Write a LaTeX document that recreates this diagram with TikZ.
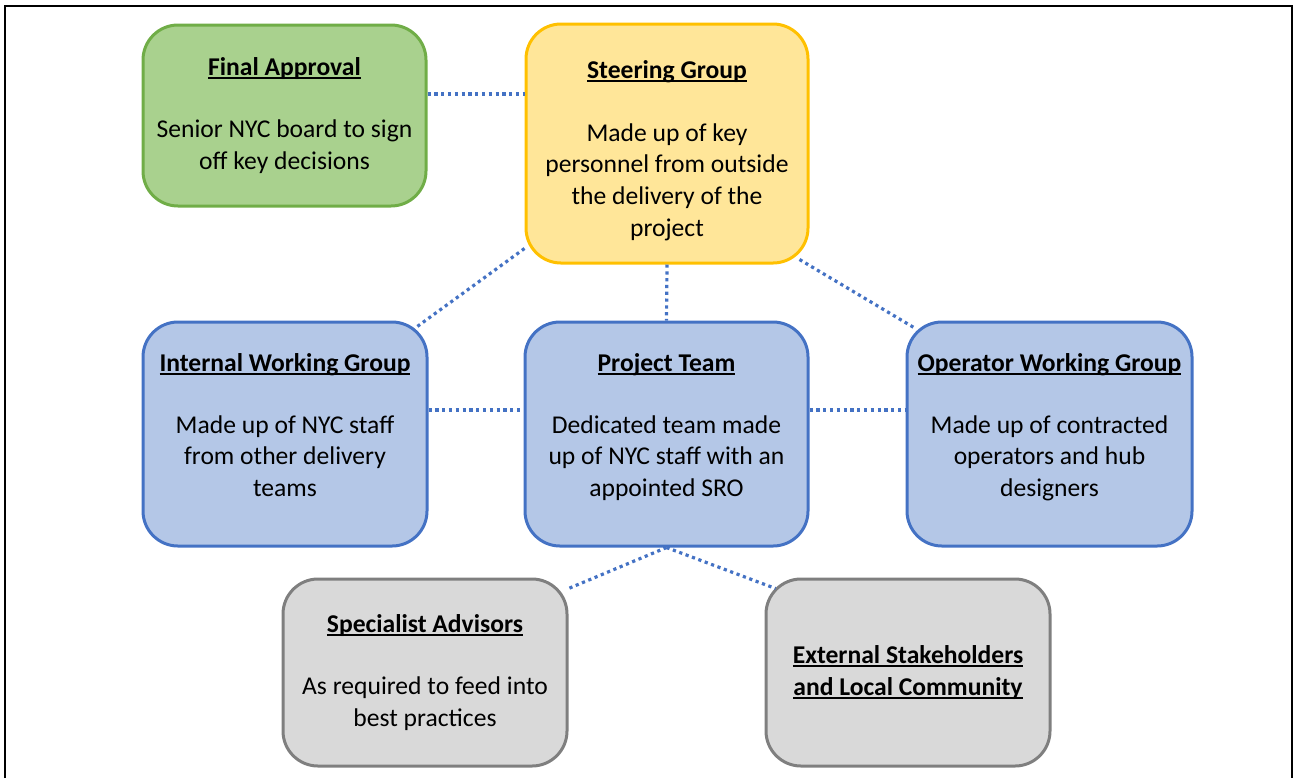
\documentclass[tikz,border=0pt]{standalone}
\usepackage{fontspec}
\setmainfont{Carlito}
\usepackage{tikz}

\definecolor{apprfill}{HTML}{A9D18E}
\definecolor{apprline}{HTML}{70AD47}
\definecolor{steerfill}{HTML}{FFE699}
\definecolor{steerline}{HTML}{FFC000}
\definecolor{teamfill}{HTML}{B4C7E7}
\definecolor{teamline}{HTML}{4472C4}
\definecolor{stakefill}{HTML}{D9D9D9}
\definecolor{stakeline}{HTML}{7F7F7F}

\tikzset{
  groupbox/.style = {rectangle, rounded corners=17.5pt, line width=1.5pt,
    align=center, inner sep=0pt, font=\fontsize{12.8}{15.8}\selectfont},
  apprbox/.style = {groupbox, draw=apprline, fill=apprfill},% final approval
  steerbox/.style = {groupbox, draw=steerline, fill=steerfill},% steering
  teambox/.style = {groupbox, draw=teamline, fill=teamfill},% working groups
  stakebox/.style = {groupbox, draw=stakeline, fill=stakefill},% advisors, community
  link/.style = {draw=teamline, line width=1.6pt, dash pattern=on 1.6pt off 1.8pt}
}

% bold heading with a rule just under the baseline
\newcommand{\heading}[1]{\setbox0=\hbox{\bfseries #1}%
  \rlap{\rule[-1.8pt]{\wd0}{0.9pt}}\box0}
% extra room below the last line, lifts the text a little
\newcommand{\lift}{\rule[-9pt]{0pt}{0pt}}

\begin{document}
\begin{tikzpicture}[x=0.5pt, y=-0.5pt]
  \useasboundingbox (0,0) rectangle (1293,778);
  \draw[line width=1pt] (5,778) -- (5,6) -- (1292,6) -- (1292,778);

  % top row
  \node[apprbox, minimum width=141.5pt, minimum height=90.5pt] (fa) at (284.5,115.5)
    {\heading{Final Approval}\\[15.5pt]
     Senior NYC board to sign\\ off key decisions};
  \node[steerbox, minimum width=141pt, minimum height=119.5pt] (sg) at (667,143.5)
    {\rule{0pt}{16pt}\heading{Steering Group}\\[15.5pt]
     Made up of key\\ personnel from outside\\ the delivery of the\\ project};

  % middle row
  \node[teambox, minimum width=142pt, minimum height=112pt] (iwg) at (285,434)
    {\heading{Internal Working Group}\\[15pt]
     Made up of NYC staff\\ from other delivery\\ teams\lift};
  \node[teambox, minimum width=141.5pt, minimum height=112pt] (pt) at (666.5,434)
    {\heading{Project Team}\\[15pt]
     Dedicated team made\\ up of NYC staff with an\\ appointed SRO\lift};
  \node[teambox, minimum width=142.5pt, minimum height=112pt] (owg) at (1049.5,434)
    {\heading{Operator Working Group}\\[15pt]
     Made up of contracted\\ operators and hub\\ designers\lift};

  % bottom row
  \node[stakebox, minimum width=142pt, minimum height=93.5pt] (sa) at (425,672.5)
    {\heading{Specialist Advisors}\\[15.5pt]
     As required to feed into\\ best practices};
  \node[stakebox, minimum width=142pt, minimum height=93.5pt] (ext) at (908,672.5)
    {\heading{External Stakeholders}\\ \heading{and Local Community}};

  % dotted links
  \draw[link] ([yshift=10.75pt]fa.east) -- ([yshift=10.75pt]fa.east -| sg.west);
  \draw[link] ([yshift=8pt]sg.south west) -- ([xshift=-7pt,yshift=-4pt]iwg.north east);
  \draw[link] (sg.south) -- (pt.north);
  \draw[link] ([xshift=-5pt,yshift=2.5pt]sg.south east) -- ([xshift=5pt,yshift=-4pt]owg.north west);
  \draw[link] ([yshift=12pt]iwg.east) -- ([yshift=12pt]pt.west);
  \draw[link] ([yshift=12pt]pt.east) -- ([yshift=12pt]owg.west);
  \draw[link] (pt.south) -- ([yshift=-5.5pt]sa.north east);
  \draw[link] (pt.south) -- ([xshift=5.5pt,yshift=-5.5pt]ext.north west);
\end{tikzpicture}
\end{document}
